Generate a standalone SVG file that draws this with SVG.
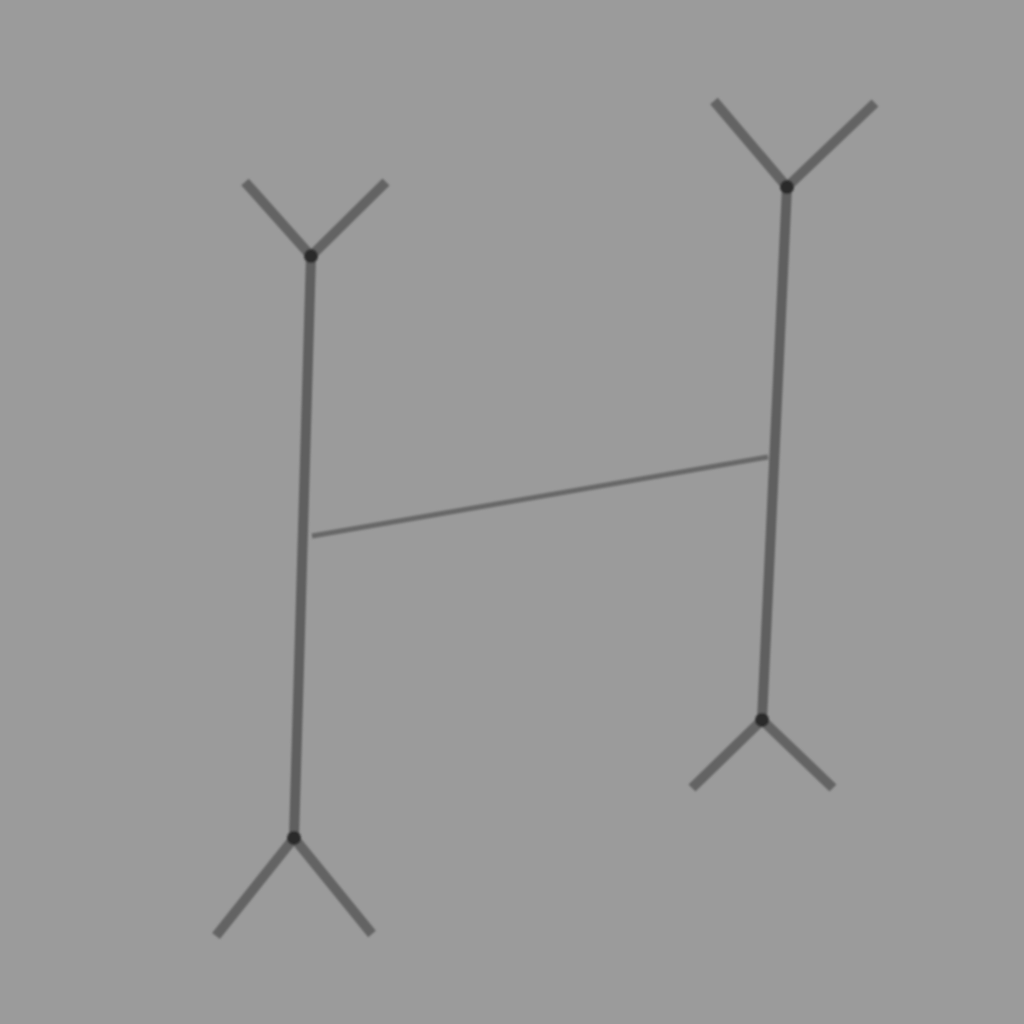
<svg xmlns="http://www.w3.org/2000/svg" width="1024" height="1024" viewBox="0 0 1024 1024">
<defs>
<style>
.bar{stroke:#5e5e5e;stroke-width:10;stroke-linecap:round;fill:none}
.fin{stroke:#636363;stroke-width:10;stroke-linecap:butt;fill:none}
.cross{stroke:#676767;stroke-width:5;fill:none}
.dot{fill:#2c2c2c}
</style>
<filter id="soft" x="-10%" y="-10%" width="120%" height="120%"><feGaussianBlur stdDeviation="1.2"/></filter>
</defs>
<rect width="1024" height="1024" fill="#9b9b9b"/>
<g filter="url(#soft)">
<g id="connectors">
<line class="cross" x1="312" y1="536" x2="768" y2="457"/>
</g>
<g id="left-figure">
<line class="bar" x1="311" y1="256" x2="294" y2="838"/>
<line class="fin" x1="311" y1="256" x2="245" y2="182"/>
<line class="fin" x1="311" y1="256" x2="386" y2="182"/>
<line class="fin" x1="294" y1="838" x2="216" y2="936"/>
<line class="fin" x1="294" y1="838" x2="372" y2="934"/>
<circle class="dot" cx="311" cy="256" r="7"/>
<circle class="dot" cx="294" cy="838" r="7"/>
</g>
<g id="right-figure">
<line class="bar" x1="787" y1="187" x2="762" y2="720"/>
<line class="fin" x1="787" y1="187" x2="714" y2="101"/>
<line class="fin" x1="787" y1="187" x2="875" y2="103"/>
<line class="fin" x1="762" y1="720" x2="692" y2="788"/>
<line class="fin" x1="762" y1="720" x2="833" y2="788"/>
<circle class="dot" cx="787" cy="187" r="7"/>
<circle class="dot" cx="762" cy="720" r="7"/>
</g>
</g>
</svg>
